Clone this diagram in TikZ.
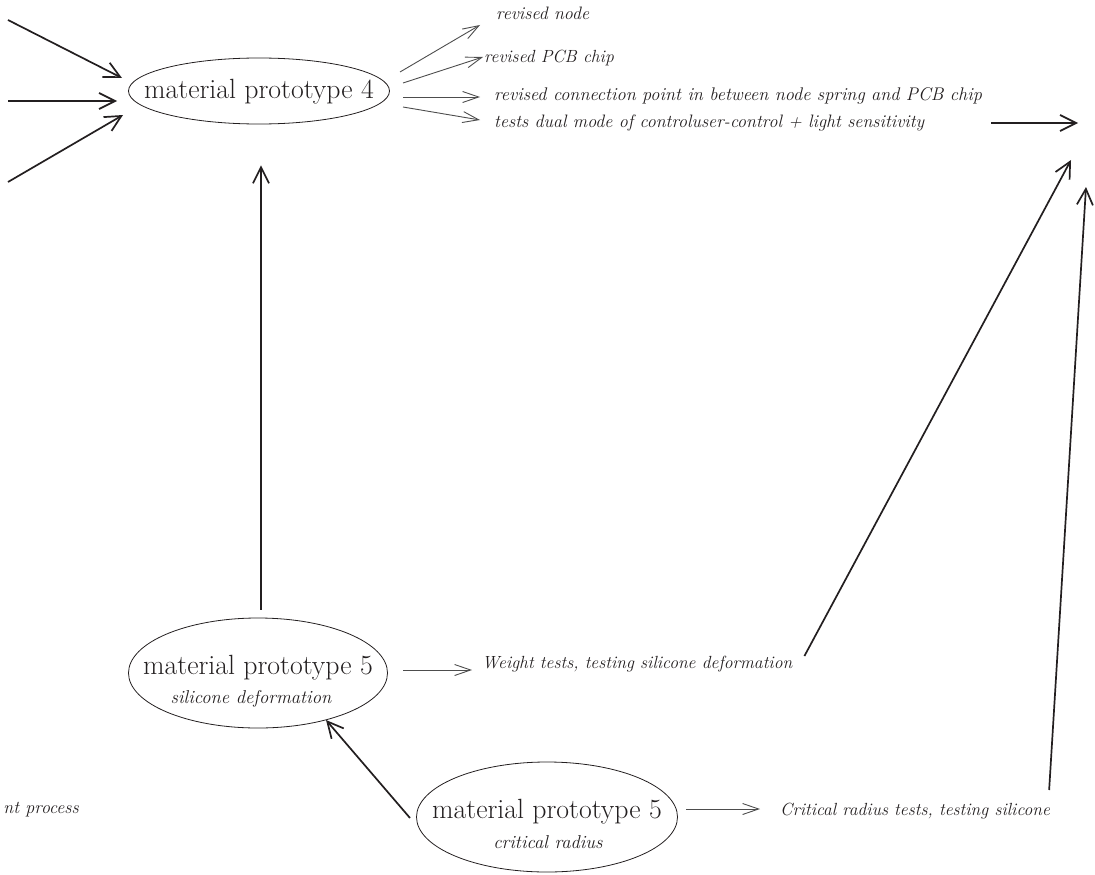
\documentclass[tikz,border=0pt]{standalone}
\usepackage{fontspec}
\usetikzlibrary{shapes.geometric,arrows.meta}
\definecolor{ink}{HTML}{231F20}
\definecolor{thinink}{HTML}{4D4D4D}

\begin{document}
\begin{tikzpicture}[x=1pt,y=-1pt,
  proto/.style={ellipse,draw=ink,line width=0.8pt,inner sep=0pt},
  title/.style={text=ink,font=\fontsize{27.8}{32}\selectfont,anchor=base,inner sep=0pt},
  sub/.style={text=ink,font=\fontsize{18.6}{22}\selectfont\itshape,anchor=base,inner sep=0pt},
  note/.style={text=ink,font=\fontsize{18}{22}\selectfont\itshape,anchor=base west,inner sep=0pt},
  link/.style={draw=ink,line width=1.7pt,-{Straight Barb[length=16pt,width=16pt]}},
  branch/.style={draw=thinink,line width=0.9pt,-{Straight Barb[length=16pt,width=11pt]}},
]
\useasboundingbox (0,0) rectangle (1095,875);

% prototype ellipses
\node[proto,minimum width=261pt,minimum height=66pt] (e4) at (259,91) {};
\node[proto,minimum width=259pt,minimum height=110pt] (e5a) at (258,673) {};
\node[proto,minimum width=261pt,minimum height=110pt] (e5b) at (547,817) {};

% ellipse captions
\node[title] (t4) at (259,98) {material prototype 4};
\node[title] (t5a) at (258,674) {material prototype 5};
\node[sub] (s5a) at (251,703) {silicone deformation};
\node[title] (t5b) at (547,818) {material prototype 5};
\node[sub] (s5b) at (548,848) {critical radius};

% notes
\node[note] (l1) at (496,20) {revised node};
\node[note,font=\fontsize{17.6}{21}\selectfont\itshape] (l2) at (484,63) {revised PCB chip};
\node[note,font=\fontsize{18.3}{22}\selectfont\itshape] (l3) at (494,100) {revised connection point in between node spring and PCB chip};
\node[note] (l4) at (494,127) {tests dual mode of controluser-control + light sensitivity};
\node[note,font=\fontsize{17.6}{21}\selectfont\itshape] (w) at (482,668) {Weight tests, testing silicone deformation};
\node[note,font=\fontsize{17.6}{21}\selectfont\itshape] (c) at (780,815) {Critical radius tests, testing silicone};
\node[sub,anchor=base east,font=\fontsize{18}{22}\selectfont\itshape] (np) at (79,813) {nt process};

% free ends
\coordinate (in1) at (8,20);
\coordinate (in2) at (8,101);
\coordinate (in3) at (8,182);
\coordinate (r1) at (991,123);
\coordinate (r2) at (1078,123);
\coordinate (t1) at (1071,160);
\coordinate (t2) at (1086,187);

% incoming arrows on prototype 4
\draw[link] (in1) -- ([shift={(-137,-13)}]e4.center);
\draw[link] (in2) -- ([shift={(-142,10)}]e4.center);
\draw[link] (in3) -- ([shift={(-136,24)}]e4.center);

% branches of prototype 4
\draw[branch] ([shift={(141,-19)}]e4.center) -- ([shift={(-16,5)}]l1.base west);
\draw[branch] ([shift={(144,-8)}]e4.center) -- ([shift={(-1,-6)}]l2.base west);
\draw[branch] ([shift={(144,6)}]e4.center) -- ([shift={(-14,-3)}]l3.base west);
\draw[branch] ([shift={(144,16)}]e4.center) -- ([shift={(-14,-7)}]l4.base west);
\draw[link] (r1) -- (r2);

% prototype 5 links
\draw[link] ([shift={(3,-8)}]e5a.north) -- ([shift={(2,41)}]e4.south);
\draw[link] ([shift={(-137,1)}]e5b.center) -- ([shift={(68,47)}]e5a.center);
\draw[branch] ([shift={(145,-3)}]e5a.center) -- ([shift={(-10,2)}]w.base west);
\draw[branch] ([shift={(139,-8)}]e5b.center) -- ([shift={(-20,-6)}]c.base west);
\draw[link] ([shift={(12,-12)}]w.base east) -- (t1);
\draw[link] ([shift={(-1,-25)}]c.base east) -- (t2);
\end{tikzpicture}
\end{document}
